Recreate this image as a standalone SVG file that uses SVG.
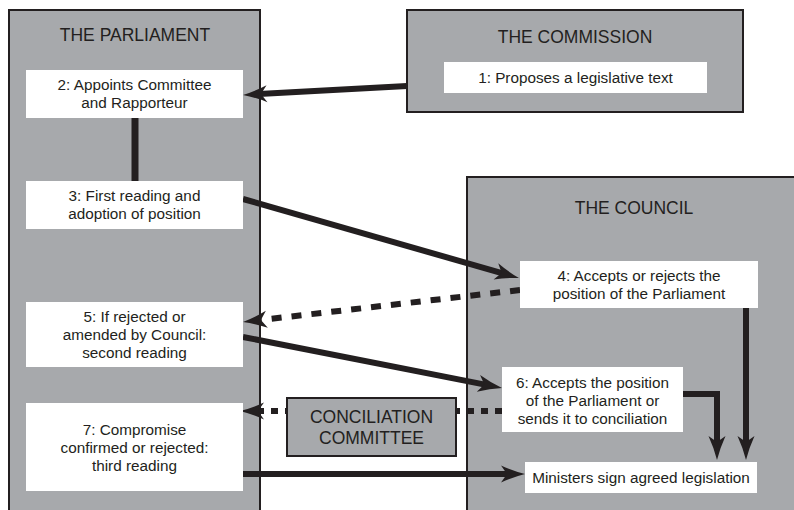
<svg xmlns="http://www.w3.org/2000/svg" width="794" height="510" viewBox="0 0 794 510">
<style>
.cont{fill:#a7a9ac;stroke:#231f20;stroke-width:2}
.box{fill:#ffffff;stroke:none}
.t{font-family:"Liberation Sans",Arial,sans-serif;font-size:15.3px;fill:#231f20;text-anchor:middle}
.title{font-family:"Liberation Sans",Arial,sans-serif;font-size:17.5px;fill:#231f20;text-anchor:middle}
.ln{fill:none;stroke:#231f20;stroke-width:6}
.dsl{fill:none;stroke:#231f20;stroke-width:6;stroke-dasharray:10 10}
.dh{fill:none;stroke:#231f20;stroke-width:6;stroke-dasharray:7 7}
</style>
<defs>
<marker id="ah" markerUnits="userSpaceOnUse" markerWidth="30" markerHeight="24" viewBox="-10 -12 30 24" refX="0" refY="0" orient="auto" overflow="visible">
<path d="M-8,-8.5 Q4,-3 16,0 Q4,3 -8,8.5 L-2,0 Z" fill="#231f20"/>
</marker>
</defs>
<rect width="794" height="510" fill="#ffffff"/>
<g id="parliament">
<rect class="cont" x="9" y="10" width="251" height="520"/>
<text class="title" x="135" y="41">THE PARLIAMENT</text>
</g>
<g id="commission">
<rect class="cont" x="407" y="10" width="336" height="102"/>
<text class="title" x="575" y="43">THE COMMISSION</text>
</g>
<g id="council">
<rect class="cont" x="467" y="177" width="340" height="350"/>
<text class="title" x="634" y="214">THE COUNCIL</text>
</g>
<g id="connectors">
<line class="ln" x1="407" y1="86" x2="259" y2="94.1" marker-end="url(#ah)"/>
<line class="ln" x1="135" y1="118" x2="135" y2="181" style="stroke-width:7"/>
<line class="ln" x1="243" y1="199" x2="503.6" y2="273.6" marker-end="url(#ah)"/>
<line class="dsl" x1="520" y1="290" x2="258.9" y2="320.2" marker-end="url(#ah)"/>
<line class="ln" x1="243" y1="337" x2="486.3" y2="384.9" marker-end="url(#ah)"/>
<line class="dh" x1="502" y1="411" x2="256" y2="411" marker-end="url(#ah)"/>
<line class="ln" x1="243" y1="474" x2="509" y2="474" marker-end="url(#ah)"/>
<path class="ln" d="M683,394 H717 V444" stroke-linejoin="miter" marker-end="url(#ah)"/>
<line class="ln" x1="746" y1="308" x2="746" y2="444" marker-end="url(#ah)"/>
</g>
<g id="n1">
<rect class="box" x="444" y="62" width="263" height="31"/>
<text class="t" x="575.5" y="83">1: Proposes a legislative text</text>
</g>
<g id="n2">
<rect class="box" x="26" y="70" width="217" height="48"/>
<text class="t" x="134.5" y="90">2: Appoints Committee</text>
<text class="t" x="134.5" y="108">and Rapporteur</text>
</g>
<g id="n3">
<rect class="box" x="26" y="181" width="217" height="48"/>
<text class="t" x="134.5" y="201">3: First reading and</text>
<text class="t" x="134.5" y="219">adoption of position</text>
</g>
<g id="n4">
<rect class="box" x="520" y="261" width="238" height="47"/>
<text class="t" x="639" y="281">4: Accepts or rejects the</text>
<text class="t" x="639" y="299">position of the Parliament</text>
</g>
<g id="n5">
<rect class="box" x="26" y="302" width="217" height="65"/>
<text class="t" x="134.5" y="322">5: If rejected or</text>
<text class="t" x="134.5" y="340">amended by Council:</text>
<text class="t" x="134.5" y="358">second reading</text>
</g>
<g id="n6">
<rect class="box" x="502" y="367" width="181" height="65"/>
<text class="t" x="592.5" y="387.5">6: Accepts the position</text>
<text class="t" x="592.5" y="405.5">of the Parliament or</text>
<text class="t" x="592.5" y="423.5">sends it to conciliation</text>
</g>
<g id="conciliation">
<rect class="cont" x="287" y="398" width="169" height="58"/>
<text class="title" x="371.5" y="423">CONCILIATION</text>
<text class="title" x="371.5" y="444">COMMITTEE</text>
</g>
<g id="n7">
<rect class="box" x="26" y="403" width="217" height="88"/>
<text class="t" x="134.5" y="435">7: Compromise</text>
<text class="t" x="134.5" y="453">confirmed or rejected:</text>
<text class="t" x="134.5" y="471">third reading</text>
</g>
<g id="ministers">
<rect class="box" x="525" y="462" width="232" height="31"/>
<text class="t" x="641" y="483">Ministers sign agreed legislation</text>
</g>
</svg>
